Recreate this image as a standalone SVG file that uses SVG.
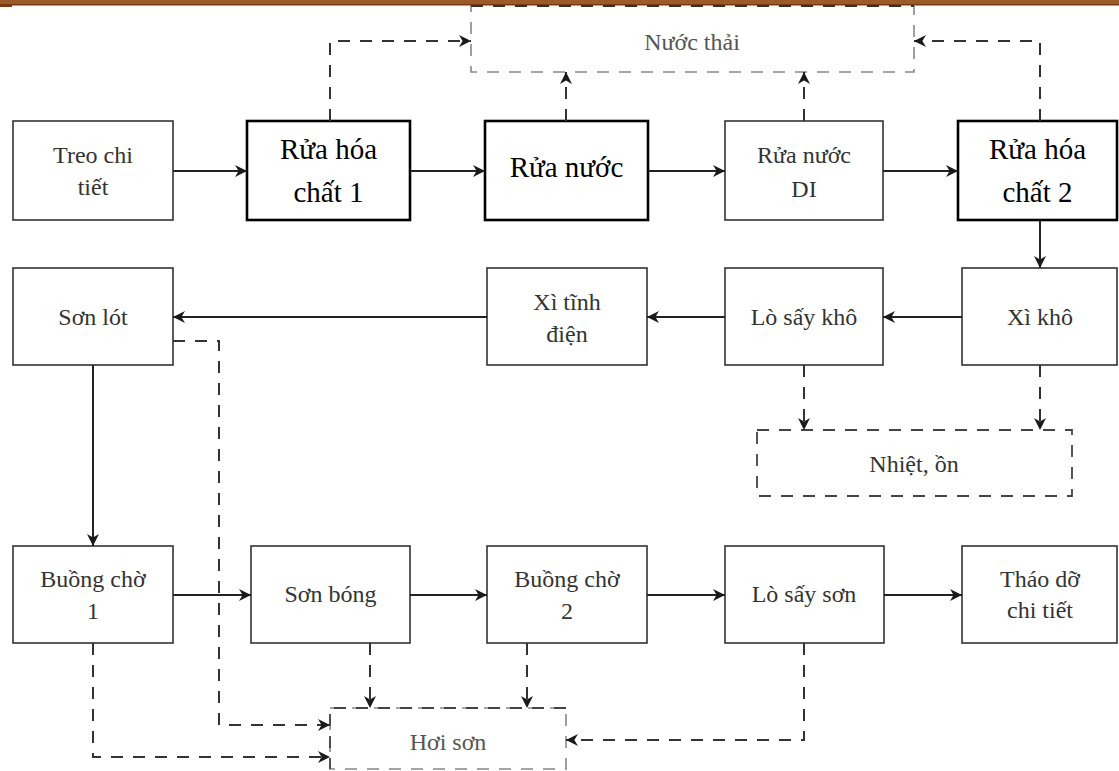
<svg xmlns="http://www.w3.org/2000/svg" width="1119" height="771" viewBox="0 0 1119 771">
<defs>
<marker id="ah" viewBox="0 0 10 10" refX="10" refY="5" markerWidth="12" markerHeight="12" markerUnits="userSpaceOnUse" orient="auto">
<path d="M0,0 L10,5 L0,10 L3,5 z" fill="#1a1a1a"/>
</marker>
<style>
.thin{fill:#fff;stroke:#333;stroke-width:1.6}
.thick{fill:#fff;stroke:#000;stroke-width:2.6}
.tt{font-family:"Liberation Serif",serif;font-size:24px;fill:#333;text-anchor:middle}
.tk{font-family:"Liberation Serif",serif;font-size:29px;fill:#000;text-anchor:middle}
.tg{font-family:"Liberation Serif",serif;font-size:24px;fill:#555;text-anchor:middle}
.sol{fill:none;stroke:#222;stroke-width:2;marker-end:url(#ah)}
.dsh{fill:none;stroke:#333;stroke-width:2;stroke-dasharray:12 10;marker-end:url(#ah)}
.dbox{fill:none;stroke:#888;stroke-width:1.6;stroke-dasharray:12 10}
.dbox2{fill:none;stroke:#444;stroke-width:1.8;stroke-dasharray:12 10}
</style>
</defs>
<rect x="0" y="0" width="1119" height="5" fill="#9b5a26"/>
<rect x="0" y="4" width="1119" height="1.5" fill="#7a3b10"/>
<rect x="0" y="5" width="12" height="2" fill="#7a3b10"/>

<g id="nuoc-thai">
<rect class="dbox" x="471" y="6" width="443" height="66"/>
<line x1="471" y1="6" x2="914" y2="6" stroke="#333" stroke-width="2" stroke-dasharray="12 10"/>
<text class="tg" x="692" y="50">Nước thải</text>
</g>
<g id="treo"><rect class="thin" x="13" y="121" width="160" height="99"/><text class="tt" x="93" y="163">Treo chi</text><text class="tt" x="93" y="195">tiết</text></g>
<g id="rhc1"><rect class="thick" x="247" y="121" width="163" height="99"/><text class="tk" x="328.5" y="159">Rửa hóa</text><text class="tk" x="328.5" y="202">chất 1</text></g>
<g id="rua-nuoc"><rect class="thick" x="485" y="121" width="163" height="99"/><text class="tk" x="566.5" y="177">Rửa nước</text></g>
<g id="rua-di"><rect class="thin" x="725" y="121" width="158" height="99"/><text class="tt" x="804" y="163">Rửa nước</text><text class="tt" x="804" y="197">DI</text></g>
<g id="rhc2"><rect class="thick" x="958" y="121" width="159" height="99"/><text class="tk" x="1037.5" y="159">Rửa hóa</text><text class="tk" x="1037.5" y="202">chất 2</text></g>

<g id="son-lot"><rect class="thin" x="13" y="268" width="160" height="97"/><text class="tt" x="93" y="325">Sơn lót</text></g>
<g id="xi-tinh-dien"><rect class="thin" x="487" y="268" width="160" height="97"/><text class="tt" x="567" y="310">Xì tĩnh</text><text class="tt" x="567" y="342">điện</text></g>
<g id="lo-say-kho"><rect class="thin" x="725" y="268" width="158" height="97"/><text class="tt" x="804" y="325">Lò sấy khô</text></g>
<g id="xi-kho"><rect class="thin" x="962" y="268" width="155" height="97"/><text class="tt" x="1040" y="325">Xì khô</text></g>

<g id="nhiet-on"><rect class="dbox2" x="757" y="430" width="315" height="66"/><text class="tt" x="914" y="472">Nhiệt, ồn</text></g>

<g id="buong-cho-1"><rect class="thin" x="13" y="546" width="160" height="97"/><text class="tt" x="93" y="587">Buồng chờ</text><text class="tt" x="93" y="619">1</text></g>
<g id="son-bong"><rect class="thin" x="251" y="546" width="159" height="97"/><text class="tt" x="330.5" y="602">Sơn bóng</text></g>
<g id="buong-cho-2"><rect class="thin" x="487" y="546" width="160" height="97"/><text class="tt" x="567" y="587">Buồng chờ</text><text class="tt" x="567" y="619">2</text></g>
<g id="lo-say-son"><rect class="thin" x="725" y="546" width="159" height="97"/><text class="tt" x="804" y="602">Lò sấy sơn</text></g>
<g id="thao-do"><rect class="thin" x="962" y="546" width="155" height="97"/><text class="tt" x="1040" y="587">Tháo dỡ</text><text class="tt" x="1040" y="618">chi tiết</text></g>

<g id="hoi-son"><rect class="dbox" x="330" y="708" width="236" height="61"/><path d="M566,708 H330 V769" fill="none" stroke="#444" stroke-width="1.8" stroke-dasharray="12 10"/><text class="tg" x="448" y="750">Hơi sơn</text></g>

<g id="connectors">
<path class="sol" d="M173,171 H247"/>
<path class="sol" d="M410,171 H485"/>
<path class="sol" d="M648,171 H725"/>
<path class="sol" d="M883,171 H958"/>
<path class="sol" d="M1040,221 V268"/>
<path class="sol" d="M962,317 H883"/>
<path class="sol" d="M725,317 H647"/>
<path class="sol" d="M487,317 H173"/>
<path class="sol" d="M93,365 V546"/>
<path class="sol" d="M173,595 H251"/>
<path class="sol" d="M410,595 H487"/>
<path class="sol" d="M647,595 H725"/>
<path class="sol" d="M884,595 H962"/>
<path class="dsh" d="M330,121 V41 H471"/>
<path class="dsh" d="M566,121 V72"/>
<path class="dsh" d="M804,121 V72"/>
<path class="dsh" d="M1040,121 V41 H914"/>
<path class="dsh" d="M804,365 V430"/>
<path class="dsh" d="M1040,365 V430"/>
<path class="dsh" d="M173,341 H219 V725 H330"/>
<path class="dsh" d="M93,643 V757 H330"/>
<path class="dsh" d="M370,643 V708"/>
<path class="dsh" d="M527,643 V708"/>
<path class="dsh" d="M804,643 V740 H566"/>
</g>
</svg>
